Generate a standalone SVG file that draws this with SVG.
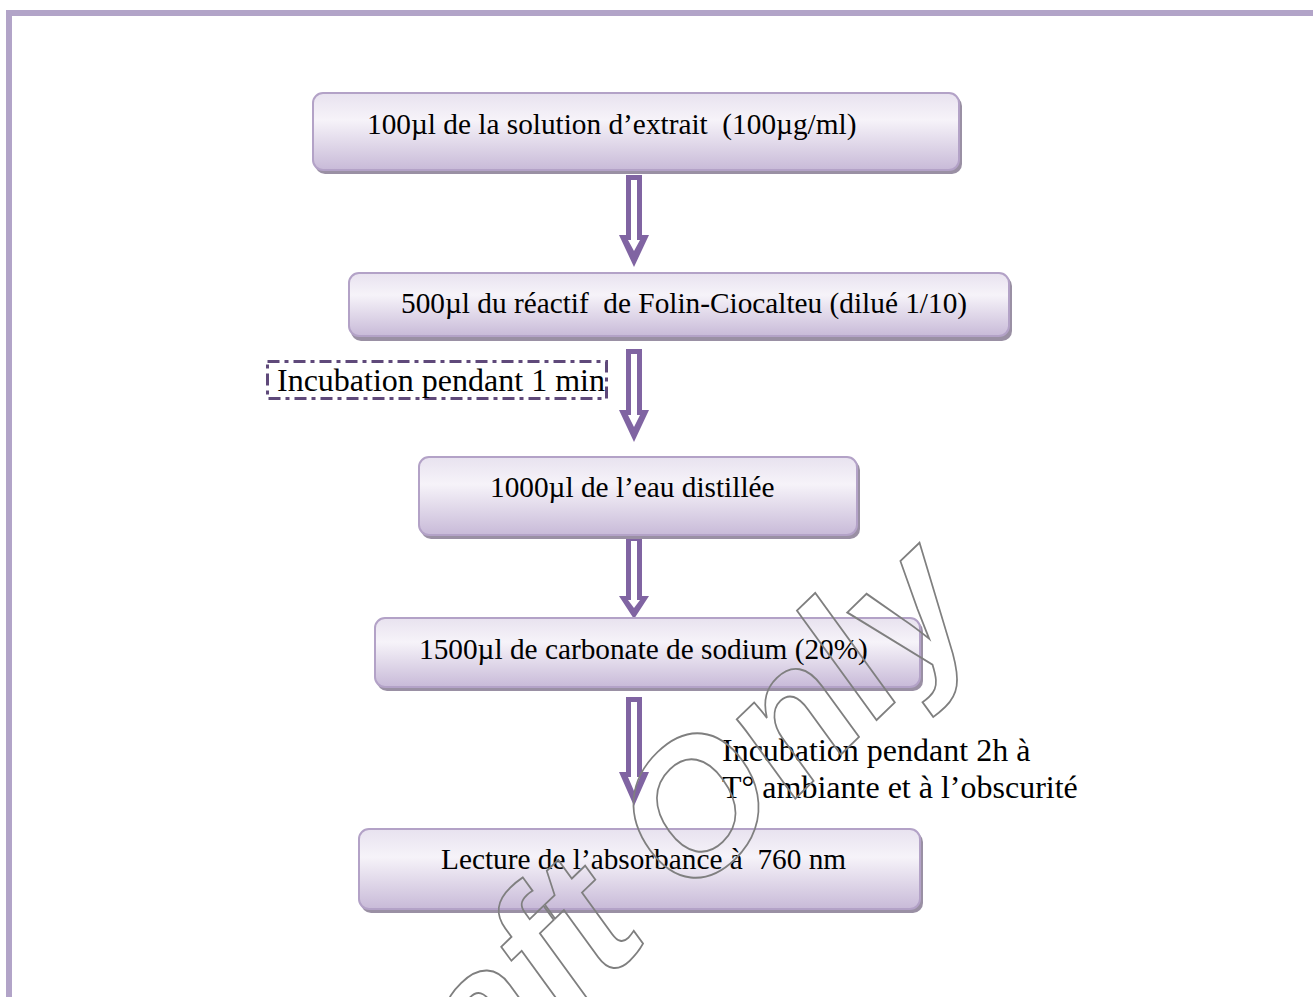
<svg xmlns="http://www.w3.org/2000/svg" width="1313" height="997" viewBox="0 0 1313 997">
<style>
.box{fill:url(#g);stroke:#b3a2c7;stroke-width:2}
.sh{fill:#9a90a4}
text{white-space:pre}
.t{font-family:"Liberation Serif","Times New Roman",serif;font-size:29.3px;fill:#000}
.lab{font-family:"Liberation Serif","Times New Roman",serif;font-size:32px;fill:#000}
.ao{fill:#8064a2}
.ai{fill:#fff}
.wm{font-family:"Liberation Sans",Arial,sans-serif;font-weight:bold;font-size:185px;fill:none;stroke:#7f7f7f;stroke-width:1.8}
</style>
<defs>
<linearGradient id="g" x1="0" y1="0" x2="0" y2="1">
<stop offset="0" stop-color="#e8e2ef"/>
<stop offset="0.35" stop-color="#f6f3f9"/>
<stop offset="1" stop-color="#c8bad8"/>
</linearGradient>
</defs>
<rect width="1313" height="997" fill="#fff"/>
<rect x="6" y="10" width="1307" height="6" fill="#b2a4c8"/>
<rect x="6" y="10" width="6" height="987" fill="#b2a4c8"/>

<g id="connectors">
<g id="arrow1">
<polygon class="ao" points="626,175 642,175 642,235 649,235 634,267 619,235 626,235"/>
<polygon class="ai" points="631,180 637,180 637,240 640,240 634,251 628,240 631,240"/>
</g>
<g id="arrow2">
<polygon class="ao" points="626,349 642,349 642,410 649,410 634,442 619,410 626,410"/>
<polygon class="ai" points="631,354 637,354 637,415 640,415 634,427 628,415 631,415"/>
</g>
<g id="arrow3">
<polygon class="ao" points="626,536 642,536 642,596 649,596 634,619 619,596 626,596"/>
<polygon class="ai" points="631,541 637,541 637,600 640,600 634,608 628,600 631,600"/>
</g>
<g id="arrow4">
<polygon class="ao" points="626,697 642,697 642,772 649,772 634,806 619,772 626,772"/>
<polygon class="ai" points="631,702 637,702 637,777 640,777 634,791 628,777 631,777"/>
</g>
</g>

<g id="n1">
<rect class="sh" x="315" y="96" width="647" height="78" rx="10"/>
<rect class="box" x="313" y="93" width="646" height="77" rx="10"/>
<text class="t" x="367" y="134" xml:space="preserve">100µl de la solution d’extrait  (100µg/ml)</text>
</g>
<g id="n2">
<rect class="sh" x="351" y="276" width="661" height="65" rx="10"/>
<rect class="box" x="349" y="273" width="660" height="63" rx="10"/>
<text class="t" x="401" y="313" xml:space="preserve">500µl du réactif  de Folin-Ciocalteu (dilué 1/10)</text>
</g>
<g id="n-inc1">
<rect x="267.5" y="361.5" width="339" height="37" fill="none" stroke="#5f497a" stroke-width="3" stroke-dasharray="12 5 4 5"/>
<text class="lab" x="277" y="391">Incubation pendant 1 min</text>
</g>
<g id="n3">
<rect class="sh" x="421" y="460" width="439" height="79" rx="10"/>
<rect class="box" x="419" y="457" width="438" height="78" rx="10"/>
<text class="t" x="490" y="497">1000µl de l’eau distillée</text>
</g>
<g id="n4">
<rect class="sh" x="377" y="621" width="546" height="70" rx="10"/>
<rect class="box" x="375" y="618" width="545" height="69" rx="10"/>
<text class="t" x="419" y="659">1500µl de carbonate de sodium (20%)</text>
</g>
<g id="n-inc2">
<text class="lab" x="722" y="761">Incubation pendant 2h à</text>
<text class="lab" x="722" y="798">T° ambiante et à l’obscurité</text>
</g>
<g id="n5">
<rect class="sh" x="361" y="832" width="562" height="81" rx="10"/>
<rect class="box" x="359" y="829" width="561" height="80" rx="10"/>
<text class="t" x="441" y="869" xml:space="preserve">Lecture de l’absorbance à  760 nm</text>
</g>

<text class="wm" transform="translate(335,1243) rotate(-44) skewX(-8)">Draft Only</text>
</svg>
